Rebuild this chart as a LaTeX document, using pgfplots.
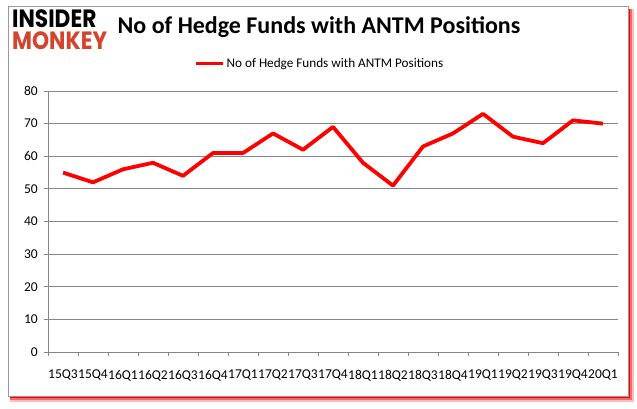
\documentclass[border=0pt]{standalone}
\usepackage{fontspec}
\setmainfont{Carlito}
\newfontfamily\logofont{Poppins}
\usepackage{pgfplots}
\pgfplotsset{compat=1.18}
\definecolor{gridgray}{HTML}{868686}
\definecolor{monkey}{HTML}{D4442C}
\begin{document}
\begin{tikzpicture}[x=1pt,y=1pt]
\useasboundingbox (0,0) rectangle (637,408);
% shadow
\fill[red!25] (10,6) rectangle (634,399);
\fill[red!60] (10,8) rectangle (632,399);
\fill[red] (10,10) rectangle (630,399);
\fill[white,draw=gray!80] (8,12) rectangle (628,402);
% logo
\node[anchor=north west,inner sep=0,xscale=0.87,align=left,
  font=\logofont\bfseries\fontsize{25}{22}\selectfont] at (12,398)
  {INSIDER\\\color{monkey}MONKEY};
% title
\node[anchor=center,inner sep=0] at (319,381) {\bfseries\fontsize{24}{24}\selectfont No of Hedge Funds with ANTM Positions};
\begin{axis}[
  at={(48pt,56pt)}, anchor=south west,
  scale only axis, width=570pt, height=261pt,
  xmin=-0.5, xmax=18.5, ymin=0, ymax=80,
  ytick={0,10,...,80},
  xtick={0,...,18},
  xticklabels={15Q3,15Q4,16Q1,16Q2,16Q3,16Q4,17Q1,17Q2,17Q3,17Q4,18Q1,18Q2,18Q3,18Q4,19Q1,19Q2,19Q3,19Q4,20Q1},
  minor xtick={-0.5,0.5,...,18.5},
  axis x line*=bottom, axis y line*=left,
  axis line style={gridgray,line width=0.8pt,-},
  ymajorgrids, grid style={gridgray,line width=0.8pt},
  major x tick style={draw=none},
  minor x tick style={gridgray,line width=0.8pt},
  major y tick style={gridgray,line width=0.8pt},
  tick align=outside, major tick length=4pt, minor tick length=4pt,
  /pgf/number format/assume math mode=true,
  tick label style={font=\fontsize{13.5}{13.5}\selectfont, black},
  xticklabel style={inner sep=0pt, yshift=-14pt},
  yticklabel style={inner sep=0pt, xshift=-6pt},
  legend style={at={(0.477,1.104)}, anchor=center, draw=none, fill=none,
    font=\fontsize{13.2}{13.2}\selectfont, inner sep=0pt},
  legend image code/.code={\draw[#1,line width=3pt] (0pt,0pt) -- (27pt,0pt);},
]
\addplot[red, line width=3.8pt, line join=round, mark=none] coordinates {
(0,55) (1,52) (2,56) (3,58) (4,54) (5,61) (6,61) (7,67) (8,62) (9,69)
(10,58) (11,51) (12,63) (13,67) (14,73) (15,66) (16,64) (17,71) (18,70)};
\addlegendentry{No of Hedge Funds with ANTM Positions}
\end{axis}
\end{tikzpicture}
\end{document}
